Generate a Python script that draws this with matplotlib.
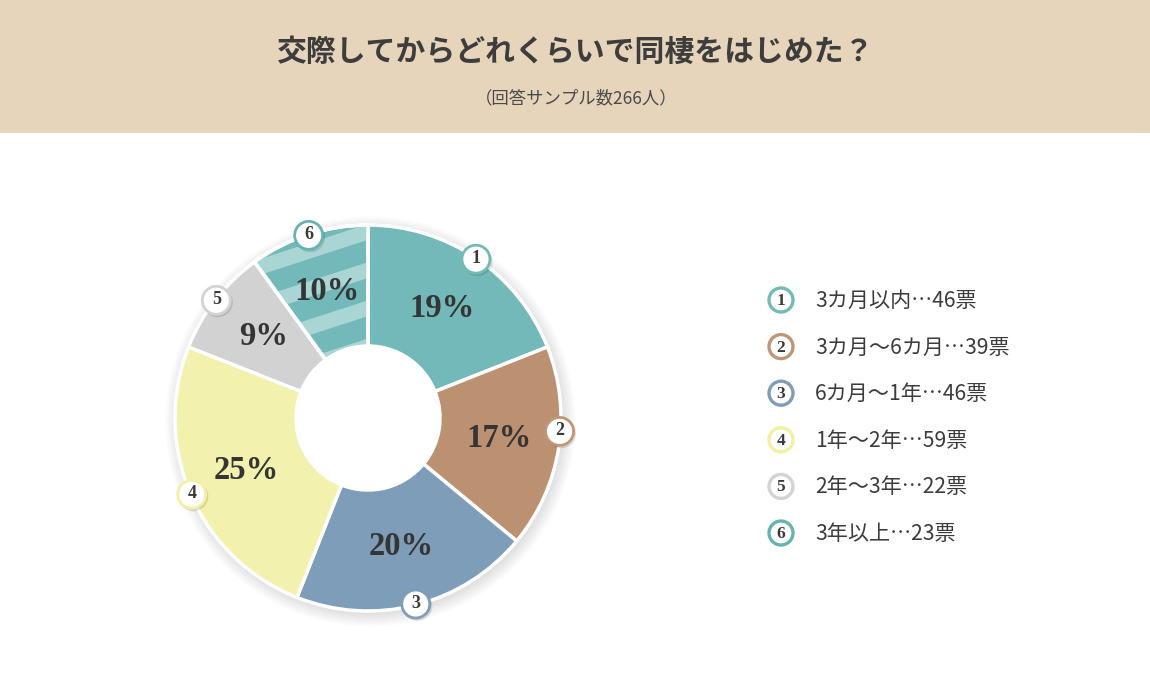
import matplotlib
matplotlib.use('Agg')
import matplotlib.pyplot as plt
from matplotlib.patches import Circle, Rectangle, Polygon, Wedge
import numpy as np

plt.rcParams['font.family'] = ['Noto Sans CJK JP', 'DejaVu Sans']

title = '交際してからどれくらいで同棲をはじめた？'
subtitle = '（回答サンプル数266人）'
labels = ['3カ月以内', '3カ月～6カ月', '6カ月～1年', '1年～2年', '2年～3年', '3年以上']
votes = [46, 39, 46, 59, 22, 23]
percents = [19, 17, 20, 25, 9, 10]
colors = ['#73b9b9', '#bc9171', '#7e9db8', '#f3f1ae', '#d2d2d2', '#73b9b9']
rings = ['#74bbb8', '#bf9677', '#7f9db6', '#f3f0a4', '#d3d3d3', '#66b4b2']
stripe_light = '#a9d6d5'
badge_shift = [0, 5, 0, 0, 0, 0]  # degrees, small nudges of the number badges

W, H = 1150, 688
fig = plt.figure(figsize=(W / 100, H / 100), dpi=100)

# background layer in pixel coordinates
bg = fig.add_axes([0, 0, 1, 1])
bg.set_xlim(0, W)
bg.set_ylim(H, 0)
bg.axis('off')
bg.add_patch(Rectangle((0, 0), W, 133, color='#e6d5bb', lw=0))
bg.text(575, 52, title, ha='center', va='center', fontsize=21.5,
        fontweight='bold', color='#3d3d3d')
bg.text(576, 98, subtitle, ha='center', va='center', fontsize=12.5,
        color='#4a4a4a')

# legend
for i in range(len(labels)):
    y = 300 + i * 46.6
    bg.add_patch(Circle((781, y), 12, fc='white', ec=rings[i], lw=2.4))
    bg.text(781, y + 1, str(i + 1), ha='center', va='center', fontsize=12.5,
            fontweight='bold', family='Liberation Serif', color='#3a3a3a')
    bg.text(815, y + 1, f'{labels[i]}…{votes[i]}票', ha='left', va='center',
            fontsize=15.2, color='#3c3c3c')

# donut
R = 193.0
half = 240
cx, cy = 368, 418
ax = fig.add_axes([(cx - half) / W, (H - cy - half) / H, 2 * half / W, 2 * half / H])

inner = 72 / R
for j in range(10):
    ax.add_patch(Circle((0.012, -0.018), 1.0 + j * 0.007, color='black',
                        alpha=0.011, lw=0, zorder=0))
ax.add_patch(Circle((0, 0), inner + 0.01, color='white', lw=0, zorder=0.5))

wedges, _ = ax.pie(percents, colors=colors, startangle=90, counterclock=False,
                   radius=1, wedgeprops=dict(width=1 - inner, edgecolor='white',
                                             linewidth=2.5))

# stripes on the last slice
ang = np.radians(18)
d = np.array([np.cos(ang), np.sin(ang)])
n = np.array([-np.sin(ang), np.cos(ang)])
s0 = 0.917
P = 0.188
lw_band = 0.078
for k in range(-10, 10):
    c = s0 + k * P
    a, b = c - lw_band / 2, c + lw_band / 2
    pts = [a * n - 2 * d, a * n + 2 * d, b * n + 2 * d, b * n - 2 * d]
    band = Polygon(pts, closed=True, fc=stripe_light, lw=0, zorder=2)
    band.set_clip_path(wedges[5])
    ax.add_patch(band)
w6 = wedges[5]
ax.add_patch(Wedge((0, 0), 1, w6.theta1, w6.theta2, width=1 - inner,
                   fc='none', ec='white', lw=2.5, zorder=3))

r_lab = (1 + inner) / 2
for i, w in enumerate(wedges):
    th = np.radians((w.theta1 + w.theta2) / 2)
    ax.text(r_lab * np.cos(th), r_lab * np.sin(th), f'{percents[i]}%',
            ha='center', va='center', fontsize=23.5, fontweight='bold',
            family='Liberation Serif', color='#353535', zorder=5)
    tb = th + np.radians(badge_shift[i])
    bx, by = 0.995 * np.cos(tb), 0.995 * np.sin(tb)
    ax.add_patch(Circle((bx + 0.008, by - 0.01), 15 / R, color='black',
                        alpha=0.12, lw=0, zorder=5))
    ax.add_patch(Circle((bx, by), 14 / R, fc='white', ec=rings[i], lw=2.0,
                        zorder=6))
    ax.text(bx, by + 0.005, str(i + 1), ha='center', va='center', fontsize=13,
            fontweight='bold', family='Liberation Serif', color='#3a3a3a',
            zorder=7)

ax.set_xlim(-half / R, half / R)
ax.set_ylim(-half / R, half / R)
ax.axis('off')

fig.savefig('out.png', dpi=100, facecolor='white')
